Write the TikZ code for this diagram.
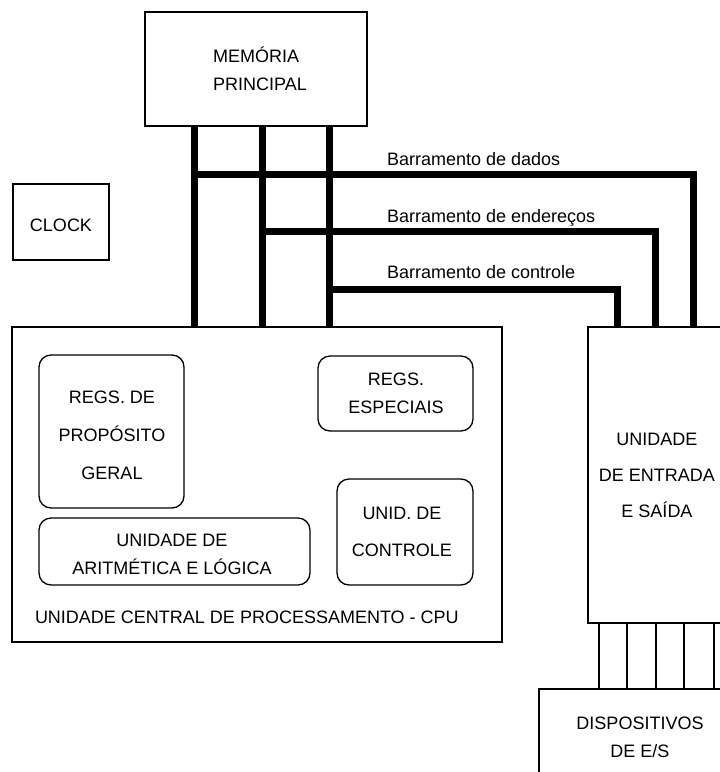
\documentclass[tikz,border=0pt]{standalone}
\usepackage{fontspec}
\setmainfont{Liberation Sans}
\begin{document}
\begin{tikzpicture}[x=1pt,y=-1pt,
  box/.style={draw,line width=1.3pt,inner sep=0pt,outer sep=0pt,align=center,font=\fontsize{18}{28}\selectfont},
  rbox/.style={box,rounded corners=12pt},
  lbl/.style={inner sep=0pt,outer sep=0pt,font=\fontsize{18}{28}\selectfont,align=center},
  bus/.style={line width=7pt,line join=miter},
  wire/.style={line width=1.3pt}]
\clip (0,0) rectangle (720,772);
\fill[white] (0,0) rectangle (720,772);
% main boxes
\node[box,minimum width=222,minimum height=114] (mem) at (256,69) {};
\node[lbl,align=left] (memt) at (260,69) {MEMÓRIA\\PRINCIPAL};
\node[box,minimum width=96,minimum height=76] (clk) at (61,222) {};
\node[lbl] (clkt) at (61,225) {CLOCK};
\node[box,minimum width=490,minimum height=315] (cpu) at (257,484.5) {};
\node[lbl,anchor=base west] (cput) at (35,623) {UNIDADE CENTRAL DE PROCESSAMENTO - CPU};
\node[box,minimum width=142,minimum height=296] (io) at (659,475) {};
\node[lbl] (iot) at (657,475) {UNIDADE\\[8pt]DE ENTRADA\\[8pt]E SAÍDA};
\node[box,minimum width=191,minimum height=111] (dev) at (634.5,744.5) {};
\node[lbl] (devt) at (640,737.5) {DISPOSITIVOS\\DE E/S};
% inner CPU boxes
\node[rbox,minimum width=145,minimum height=153] (rpg) at (111.5,431.5) {};
\node[lbl] (rpgt) at (112,435) {REGS. DE\\[10pt]PROPÓSITO\\[10pt]GERAL};
\node[rbox,minimum width=155,minimum height=75] (resp) at (395.5,393.5) {};
\node[lbl] (respt) at (396,393) {REGS.\\ESPECIAIS};
\node[rbox,minimum width=271,minimum height=67] (ula) at (174.5,551.5) {};
\node[lbl] (ulat) at (172,554) {UNIDADE DE\\ARITMÉTICA E LÓGICA};
\node[rbox,minimum width=136,minimum height=106] (uc) at (405,532) {};
\node[lbl] (uct) at (402,531.5) {UNID. DE\\[9pt]CONTROLE};
% buses
\coordinate (b1) at (194,0);
\coordinate (b2) at (262,0);
\coordinate (b3) at (329,0);
\draw[bus] (mem.south -| b1) -- (cpu.north -| b1);
\draw[bus] (mem.south -| b2) -- (cpu.north -| b2);
\draw[bus] (mem.south -| b3) -- (cpu.north -| b3);
\coordinate (dj) at (194,174);
\coordinate (dk) at (693,174);
\coordinate (aj) at (262,231);
\coordinate (ak) at (655,231);
\coordinate (cj) at (329,289);
\coordinate (ck) at (617,289);
\draw[bus] (dj) -- (dk) -- (dk |- io.north);
\draw[bus] (aj) -- (ak) -- (ak |- io.north);
\draw[bus] (cj) -- (ck) -- (ck |- io.north);
\node[lbl,anchor=base west] (ld) at (387,165) {Barramento de dados};
\node[lbl,anchor=base west] (la) at (387,222) {Barramento de endereços};
\node[lbl,anchor=base west] (lc) at (387,278) {Barramento de controle};
% I/O wires
\foreach \x [count=\i] in {599,627,656,684,714}{
  \coordinate (w\i) at (\x,0);
  \draw[wire] (io.south -| w\i) -- (dev.north -| w\i);
}
\end{tikzpicture}
\end{document}
